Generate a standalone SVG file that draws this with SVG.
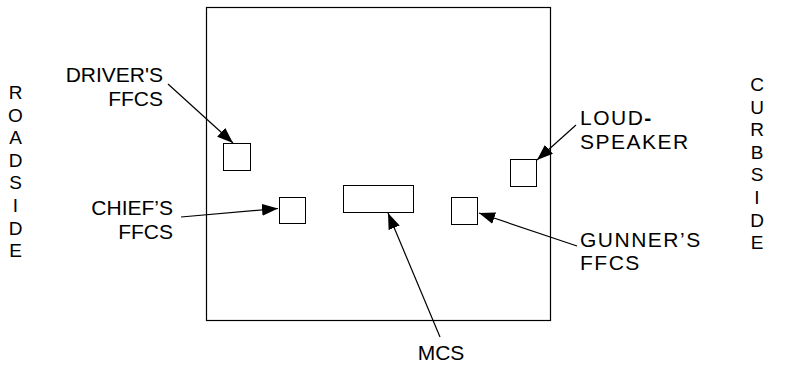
<svg xmlns="http://www.w3.org/2000/svg" width="795" height="371" viewBox="0 0 795 371">
  <defs>
    <style>
      .frame { fill: #ffffff; stroke: #000000; stroke-width: 1.2; }
      .box { fill: #ffffff; stroke: #000000; stroke-width: 1; }
      .lbl { font-family: "Liberation Sans", Arial, sans-serif; font-size: 21px; fill: #000000; }
      .wide { letter-spacing: 1.5px; }
      .side { font-family: "Liberation Sans", Arial, sans-serif; font-size: 19px; fill: #000000; text-anchor: middle; }
      .conn { stroke: #000000; stroke-width: 1.2; fill: none; marker-end: url(#arrow); }
    </style>
    <marker id="arrow" markerUnits="userSpaceOnUse" markerWidth="16" markerHeight="12" viewBox="0 0 16 12" refX="16" refY="6" orient="auto">
      <path d="M0,0 L16,6 L0,12 Z" fill="#000000"/>
    </marker>
  </defs>
  <rect width="795" height="371" fill="#ffffff"/>

  <g id="vehicle">
    <rect class="frame" x="206.5" y="7.5" width="344" height="313"/>
  </g>

  <g id="roadside">
    <text class="side" x="15.5" y="99">R</text>
    <text class="side" x="15.5" y="121.6">O</text>
    <text class="side" x="15.5" y="144.2">A</text>
    <text class="side" x="15.5" y="166.8">D</text>
    <text class="side" x="15.5" y="189.4">S</text>
    <text class="side" x="15.5" y="212">I</text>
    <text class="side" x="15.5" y="234.6">D</text>
    <text class="side" x="15.5" y="257.2">E</text>
  </g>

  <g id="curbside">
    <text class="side" x="757" y="91">C</text>
    <text class="side" x="757" y="113.6">U</text>
    <text class="side" x="757" y="136.2">R</text>
    <text class="side" x="757" y="158.8">B</text>
    <text class="side" x="757" y="181.4">S</text>
    <text class="side" x="757" y="204">I</text>
    <text class="side" x="757" y="226.6">D</text>
    <text class="side" x="757" y="249.2">E</text>
  </g>

  <g id="drivers-ffcs">
    <rect class="box" x="223.5" y="143.5" width="27" height="27"/>
    <text class="lbl" x="163" y="82" text-anchor="end">DRIVER'S</text>
    <text class="lbl" x="163" y="106" text-anchor="end">FFCS</text>
  </g>

  <g id="chiefs-ffcs">
    <rect class="box" x="279.5" y="197.5" width="26" height="26"/>
    <text class="lbl" x="173" y="215" text-anchor="end">CHIEF’S</text>
    <text class="lbl" x="173" y="239" text-anchor="end">FFCS</text>
  </g>

  <g id="mcs">
    <rect class="box" x="343.5" y="185.5" width="70" height="27"/>
    <text class="lbl" x="441" y="360" text-anchor="middle">MCS</text>
  </g>

  <g id="gunners-ffcs">
    <rect class="box" x="451.5" y="197.5" width="26" height="27"/>
    <text class="lbl wide" x="580" y="247">GUNNER’S</text>
    <text class="lbl wide" x="580" y="270">FFCS</text>
  </g>

  <g id="loudspeaker">
    <rect class="box" x="510.5" y="159.5" width="26" height="27"/>
    <text class="lbl wide" x="580" y="125">LOUD<tspan font-weight="bold">-</tspan></text>
    <text class="lbl wide" x="580" y="149">SPEAKER</text>
  </g>

  <g id="connectors">
    <line class="conn" x1="168" y1="84" x2="233" y2="143"/>
    <line class="conn" x1="181" y1="217" x2="278" y2="208.5"/>
    <line class="conn" x1="440" y1="337" x2="388" y2="213"/>
    <line class="conn" x1="577" y1="246" x2="479" y2="213"/>
    <line class="conn" x1="576" y1="125" x2="537" y2="160"/>
  </g>
</svg>
